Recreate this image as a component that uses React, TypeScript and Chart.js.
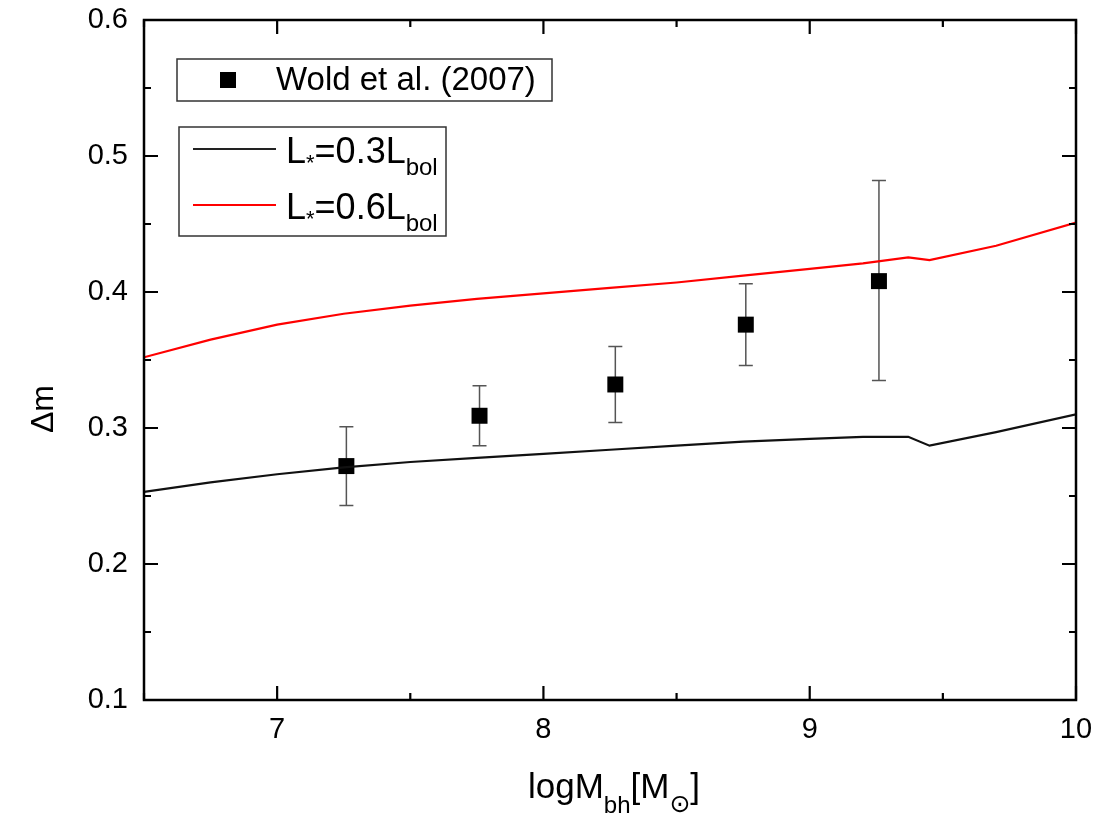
import React, { useEffect, useRef } from "react";
import { Chart, registerables } from "chart.js";

Chart.register(...registerables);

// ---- data ----
const woldX = [7.26, 7.76, 8.27, 8.76, 9.26];
const woldY = [0.272, 0.309, 0.332, 0.376, 0.408];
const woldErrHigh = [0.301, 0.331, 0.36, 0.406, 0.482];
const woldErrLow = [0.243, 0.287, 0.304, 0.346, 0.335];

const modelX = [6.5, 6.75, 7.0, 7.25, 7.5, 7.75, 8.0, 8.25, 8.5, 8.75, 9.0, 9.2, 9.37, 9.45, 9.7, 10];
const black03Y = [0.253, 0.26, 0.266, 0.271, 0.275, 0.278, 0.281, 0.284, 0.287, 0.29, 0.292, 0.2935, 0.2935, 0.287, 0.297, 0.31];
const red06Y = [0.352, 0.365, 0.376, 0.384, 0.39, 0.395, 0.399, 0.403, 0.407, 0.412, 0.417, 0.421, 0.4255, 0.4235, 0.434, 0.451];

const xMajorTicks = [7, 8, 9, 10];
const xMinorTicks = [6.5, 7.5, 8.5, 9.5];
const yMajorTicks = [0.1, 0.2, 0.3, 0.4, 0.5, 0.6];
const yMinorTicks = [0.15, 0.25, 0.35, 0.45, 0.55];

const FONT = '"Liberation Sans", Arial, "DejaVu Sans", sans-serif';

type Seg = { t: string; size: number; dy?: number };

function segWidth(ctx: CanvasRenderingContext2D, segs: Seg[]) {
  let w = 0;
  for (const s of segs) {
    ctx.font = `${s.size}px ${FONT}`;
    w += ctx.measureText(s.t).width;
  }
  return w;
}

function drawSegs(ctx: CanvasRenderingContext2D, segs: Seg[], x: number, y: number) {
  ctx.textAlign = "left";
  ctx.textBaseline = "alphabetic";
  let cx = x;
  for (const s of segs) {
    ctx.font = `${s.size}px ${FONT}`;
    ctx.fillText(s.t, cx, y + (s.dy || 0));
    cx += ctx.measureText(s.t).width;
  }
}

const decorPlugin = {
  id: "decor",
  beforeDatasetsDraw(chart: any) {
    const ctx: CanvasRenderingContext2D = chart.ctx;
    const xs = chart.scales.x;
    const ys = chart.scales.y;
    ctx.save();
    ctx.strokeStyle = "#555";
    ctx.lineWidth = 1.5;
    for (let i = 0; i < woldX.length; i++) {
      const px = xs.getPixelForValue(woldX[i]);
      const pt = ys.getPixelForValue(woldErrHigh[i]);
      const pb = ys.getPixelForValue(woldErrLow[i]);
      ctx.beginPath();
      ctx.moveTo(px, pt);
      ctx.lineTo(px, pb);
      ctx.moveTo(px - 7, pt);
      ctx.lineTo(px + 7, pt);
      ctx.moveTo(px - 7, pb);
      ctx.lineTo(px + 7, pb);
      ctx.stroke();
    }
    ctx.restore();
  },
  afterDraw(chart: any) {
    const ctx: CanvasRenderingContext2D = chart.ctx;
    const a = chart.chartArea;
    const xs = chart.scales.x;
    const ys = chart.scales.y;
    ctx.save();
    // frame
    ctx.strokeStyle = "#000";
    ctx.lineWidth = 2.5;
    ctx.strokeRect(a.left, a.top, a.right - a.left, a.bottom - a.top);
    // ticks
    const major = 14;
    const minor = 7;
    ctx.lineWidth = 2.2;
    ctx.beginPath();
    const xt = (v: number, len: number) => {
      const p = xs.getPixelForValue(v);
      ctx.moveTo(p, a.bottom);
      ctx.lineTo(p, a.bottom - len);
      ctx.moveTo(p, a.top);
      ctx.lineTo(p, a.top + len);
    };
    const yt = (v: number, len: number) => {
      const p = ys.getPixelForValue(v);
      ctx.moveTo(a.left, p);
      ctx.lineTo(a.left + len, p);
      ctx.moveTo(a.right, p);
      ctx.lineTo(a.right - len, p);
    };
    xMajorTicks.forEach((v) => xt(v, major));
    xMinorTicks.forEach((v) => xt(v, minor));
    yMajorTicks.forEach((v) => yt(v, major));
    yMinorTicks.forEach((v) => yt(v, minor));
    ctx.stroke();

    // tick labels
    ctx.fillStyle = "#000";
    ctx.font = `29px ${FONT}`;
    ctx.textBaseline = "middle";
    ctx.textAlign = "center";
    xMajorTicks.forEach((v) => {
      ctx.fillText(String(v), xs.getPixelForValue(v), a.bottom + 30);
    });
    ctx.textAlign = "right";
    yMajorTicks.forEach((v) => {
      ctx.fillText(v.toFixed(1), a.left - 16, ys.getPixelForValue(v));
    });

    // axis titles
    const xTitle: Seg[] = [
      { t: "logM", size: 35 },
      { t: "bh", size: 24, dy: 15 },
      { t: "[M", size: 35 },
      { t: "\u2299", size: 25, dy: 14 },
      { t: "]", size: 35 },
    ];
    const w = segWidth(ctx, xTitle);
    drawSegs(ctx, xTitle, 614 - w / 2, 798);

    ctx.save();
    ctx.translate(53, 409);
    ctx.rotate(-Math.PI / 2);
    ctx.font = `32px ${FONT}`;
    ctx.textAlign = "center";
    ctx.textBaseline = "alphabetic";
    ctx.fillText("\u0394m", 0, 0);
    ctx.restore();

    // legend 1
    ctx.strokeStyle = "#333";
    ctx.lineWidth = 1.5;
    ctx.strokeRect(177, 59, 375, 42);
    ctx.fillStyle = "#000";
    ctx.fillRect(220, 72, 16, 16);
    ctx.font = `33px ${FONT}`;
    ctx.textAlign = "left";
    ctx.textBaseline = "middle";
    ctx.fillText("Wold et al. (2007)", 276, 81);

    // legend 2
    ctx.strokeRect(179, 127, 267, 109);
    ctx.lineWidth = 2;
    ctx.strokeStyle = "#222";
    ctx.beginPath();
    ctx.moveTo(193, 149);
    ctx.lineTo(276, 149);
    ctx.stroke();
    ctx.strokeStyle = "#ff0000";
    ctx.beginPath();
    ctx.moveTo(193, 205);
    ctx.lineTo(276, 205);
    ctx.stroke();
    const l1: Seg[] = [
      { t: "L", size: 36 },
      { t: "*", size: 22, dy: 7 },
      { t: "=0.3L", size: 36 },
      { t: "bol", size: 24, dy: 12 },
    ];
    const l2: Seg[] = [
      { t: "L", size: 36 },
      { t: "*", size: 22, dy: 7 },
      { t: "=0.6L", size: 36 },
      { t: "bol", size: 24, dy: 12 },
    ];
    ctx.fillStyle = "#000";
    drawSegs(ctx, l1, 286, 163);
    drawSegs(ctx, l2, 286, 219);
    ctx.restore();
  },
};

export default function App() {
  const ref = useRef<HTMLCanvasElement | null>(null);
  useEffect(() => {
    document.body.style.margin = "0";
    const canvas = ref.current;
    if (!canvas) return;
    const chart = new Chart(canvas, {
      type: "scatter",
      data: {
        datasets: [
          {
            label: "L*=0.3Lbol",
            data: modelX.map((x, i) => ({ x, y: black03Y[i] })),
            showLine: true,
            borderColor: "#111",
            borderWidth: 2.2,
            pointRadius: 0,
            tension: 0,
          },
          {
            label: "L*=0.6Lbol",
            data: modelX.map((x, i) => ({ x, y: red06Y[i] })),
            showLine: true,
            borderColor: "#ff0000",
            borderWidth: 2.2,
            pointRadius: 0,
            tension: 0,
          },
          {
            label: "Wold et al. (2007)",
            data: woldX.map((x, i) => ({ x, y: woldY[i] })),
            showLine: false,
            pointStyle: "rect",
            pointRadius: 11.3,
            backgroundColor: "#000",
            borderColor: "#000",
            borderWidth: 0,
          },
        ],
      },
      options: {
        animation: false,
        responsive: false,
        layout: { padding: { top: 20, right: 19, left: 0, bottom: 0 } },
        plugins: { legend: { display: false }, tooltip: { enabled: false }, title: { display: false } },
        scales: {
          x: {
            type: "linear",
            min: 6.5,
            max: 10,
            grid: { display: false },
            border: { display: false },
            ticks: { display: false },
            afterFit: (s: any) => {
              s.height = 116;
            },
          },
          y: {
            type: "linear",
            min: 0.1,
            max: 0.6,
            grid: { display: false },
            border: { display: false },
            ticks: { display: false },
            afterFit: (s: any) => {
              s.width = 144;
            },
          },
        },
      },
      plugins: [decorPlugin],
    } as any);
    return () => chart.destroy();
  }, []);
  return (
    <div style={{ width: 1095, height: 816 }}>
      <canvas ref={ref} width={1095} height={816} style={{ display: "block" }} />
    </div>
  );
}
